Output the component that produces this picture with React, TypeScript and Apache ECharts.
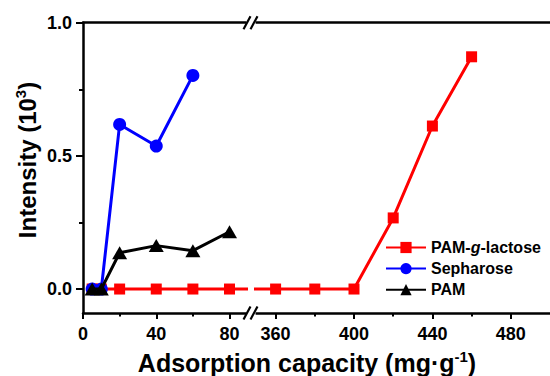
import React, { useEffect, useRef } from 'react';
import * as echarts from 'echarts';

const lactoseX = [5, 10, 20, 40, 60, 80, 360, 380, 400, 420, 440, 460];
const lactoseY = [0, 0, 0, 0, 0, 0, 0, 0, 0, 0.267, 0.612, 0.872];
const sepharoseX = [5, 10, 20, 40, 60];
const sepharoseY = [0, 0, 0.618, 0.537, 0.802];
const pamX = [5, 10, 20, 40, 60, 80];
const pamY = [0, 0, 0.136, 0.163, 0.144, 0.215];
const leftTicks = [0, 40, 80];
const leftMinor = [20, 60];
const rightTicks = [360, 400, 440, 480];
const rightMinor = [380, 420, 460];
const yTicks = [0, 0.5, 1.0];
const yMinor = [0.25, 0.75];
const seriesNames = ['PAM-g-lactose', 'Sepharose', 'PAM'];

const FONT = "'Liberation Sans', Arial, sans-serif";
const RED = '#ff0000';
const BLUE = '#0000ff';
const BLACK = '#000000';

const pairs = (xs: number[], ys: number[]) => xs.map((x, i) => [x, ys[i]]);

export default function App() {
  const ref = useRef<HTMLDivElement>(null);
  useEffect(() => {
    if (!ref.current) return;
    const chart = echarts.init(ref.current, null, { renderer: 'svg' });
    const axisLine = { show: true, onZero: false, lineStyle: { color: BLACK, width: 2.5 } };
    const hiddenLine = { show: false, onZero: false };
    const labelStyle = { color: BLACK, fontSize: 18, fontWeight: 'bold', fontFamily: FONT };
    const mkX = (grid: number, min: number, max: number, ticks: number[], minor: number[]) => [
      {
        type: 'value', gridIndex: grid, min, max, position: 'bottom',
        axisLine,
        axisTick: { show: true, customValues: ticks, length: 6, lineStyle: { color: BLACK, width: 2 } },
        axisLabel: { show: true, customValues: ticks, margin: 12, ...labelStyle },
        splitLine: { show: false },
      },
      {
        type: 'value', gridIndex: grid, min, max, position: 'bottom',
        axisLine: hiddenLine,
        axisTick: { show: true, customValues: minor, length: 3.5, lineStyle: { color: BLACK, width: 2 } },
        axisLabel: { show: false },
        splitLine: { show: false },
      },
      {
        type: 'value', gridIndex: grid, min, max, position: 'top',
        axisLine,
        axisTick: { show: false },
        axisLabel: { show: false },
        splitLine: { show: false },
      },
    ];
    const yMin = -0.09;
    const yMax = 1.0;
    const slash = (x: number, y: number) => ({
      type: 'line',
      shape: { x1: x, y1: y + 6.5, x2: x + 7, y2: y - 6.5 },
      style: { stroke: BLACK, lineWidth: 2.2 },
      z: 100,
    });
    const redStyle = {
      type: 'line', name: seriesNames[0], symbol: 'rect', symbolSize: 11,
      itemStyle: { color: RED }, lineStyle: { color: RED, width: 3 }, clip: true, z: 2,
    };
    const supRich = {
      a: { fontSize: 25, fontWeight: 'bold', fontFamily: FONT, fill: BLACK, lineHeight: 28 },
      s: { fontSize: 15, fontWeight: 'bold', fontFamily: FONT, fill: BLACK, verticalAlign: 'top', lineHeight: 28, padding: [0, 0, 10, 0] },
    };
    chart.setOption({
      animation: false,
      backgroundColor: '#ffffff',
      grid: [
        { left: 83, top: 22.7, width: 163, height: 290.3 },
        { left: 256, top: 22.7, width: 297, height: 290.3 },
      ],
      xAxis: [
        ...mkX(0, 0, 89, leftTicks, leftMinor),
        ...mkX(1, 350, 500, rightTicks, rightMinor),
      ],
      yAxis: [
        {
          type: 'value', gridIndex: 0, min: yMin, max: yMax, position: 'left',
          axisLine,
          axisTick: { show: true, customValues: yTicks, length: 7, lineStyle: { color: BLACK, width: 2 } },
          axisLabel: { show: true, customValues: yTicks, margin: 11, formatter: (v: number) => v.toFixed(1), ...labelStyle },
          splitLine: { show: false },
        },
        {
          type: 'value', gridIndex: 0, min: yMin, max: yMax, position: 'left',
          axisLine: hiddenLine,
          axisTick: { show: true, customValues: yMinor, length: 4, lineStyle: { color: BLACK, width: 2 } },
          axisLabel: { show: false },
          splitLine: { show: false },
        },
        {
          type: 'value', gridIndex: 1, min: yMin, max: yMax, show: false,
          axisLine: hiddenLine,
          splitLine: { show: false },
        },
      ],
      legend: {
        data: seriesNames,
        orient: 'vertical',
        left: 385,
        top: 239.5,
        padding: 0,
        itemWidth: 40,
        itemHeight: 14,
        itemGap: 5.1,
        selectedMode: false,
        formatter: (name: string) =>
          name === 'PAM-g-lactose' ? '{n|PAM-}{i|g}{n|-lactose}' : `{n|${name}}`,
        textStyle: {
          rich: {
            n: { fontSize: 16, fontWeight: 'bold', fontFamily: FONT, color: BLACK, lineHeight: 14 },
            i: { fontSize: 16, fontWeight: 'bold', fontStyle: 'italic', fontFamily: FONT, color: BLACK, lineHeight: 14 },
          },
        },
      },
      series: [
        { ...redStyle, xAxisIndex: 0, yAxisIndex: 0, data: pairs(lactoseX, lactoseY) },
        { ...redStyle, xAxisIndex: 3, yAxisIndex: 2, data: pairs(lactoseX, lactoseY) },
        {
          type: 'line', name: seriesNames[1], xAxisIndex: 0, yAxisIndex: 0, symbol: 'circle', symbolSize: 13,
          itemStyle: { color: BLUE }, lineStyle: { color: BLUE, width: 3 }, clip: true, z: 3,
          data: pairs(sepharoseX, sepharoseY),
        },
        {
          type: 'line', name: seriesNames[2], xAxisIndex: 0, yAxisIndex: 0, symbol: 'triangle', symbolSize: [15, 13],
          itemStyle: { color: BLACK }, lineStyle: { color: BLACK, width: 3 }, clip: true, z: 4,
          data: pairs(pamX, pamY),
        },
      ],
      graphic: [
        { type: 'rect', shape: { x: 246.5, y: 10, width: 9, height: 20 }, style: { fill: '#fff' }, z: 99 },
        { type: 'rect', shape: { x: 246.5, y: 305, width: 9, height: 16 }, style: { fill: '#fff' }, z: 99 },
        slash(243.5, 22.7),
        slash(250.5, 22.7),
        slash(243.5, 313),
        slash(250.5, 313),
        {
          type: 'text', x: 307, y: 363, z: 100,
          style: {
            text: '{a|Adsorption capacity (mg·g}{s|-1}{a|)}',
            align: 'center', verticalAlign: 'middle', fill: BLACK,
            rich: supRich,
          },
        },
        {
          type: 'text', x: 27, y: 160, rotation: Math.PI / 2, z: 100,
          style: {
            text: '{a|Intensity (10}{s|3}{a|)}',
            align: 'center', verticalAlign: 'middle', fill: BLACK,
            rich: { ...supRich, a: { ...supRich.a, fontSize: 24 } },
          },
        },
      ],
    });
    return () => chart.dispose();
  }, []);
  return (
    <div
      ref={ref}
      style={{ position: 'fixed', left: 0, top: 0, width: 550, height: 376, background: '#fff' }}
    />
  );
}
